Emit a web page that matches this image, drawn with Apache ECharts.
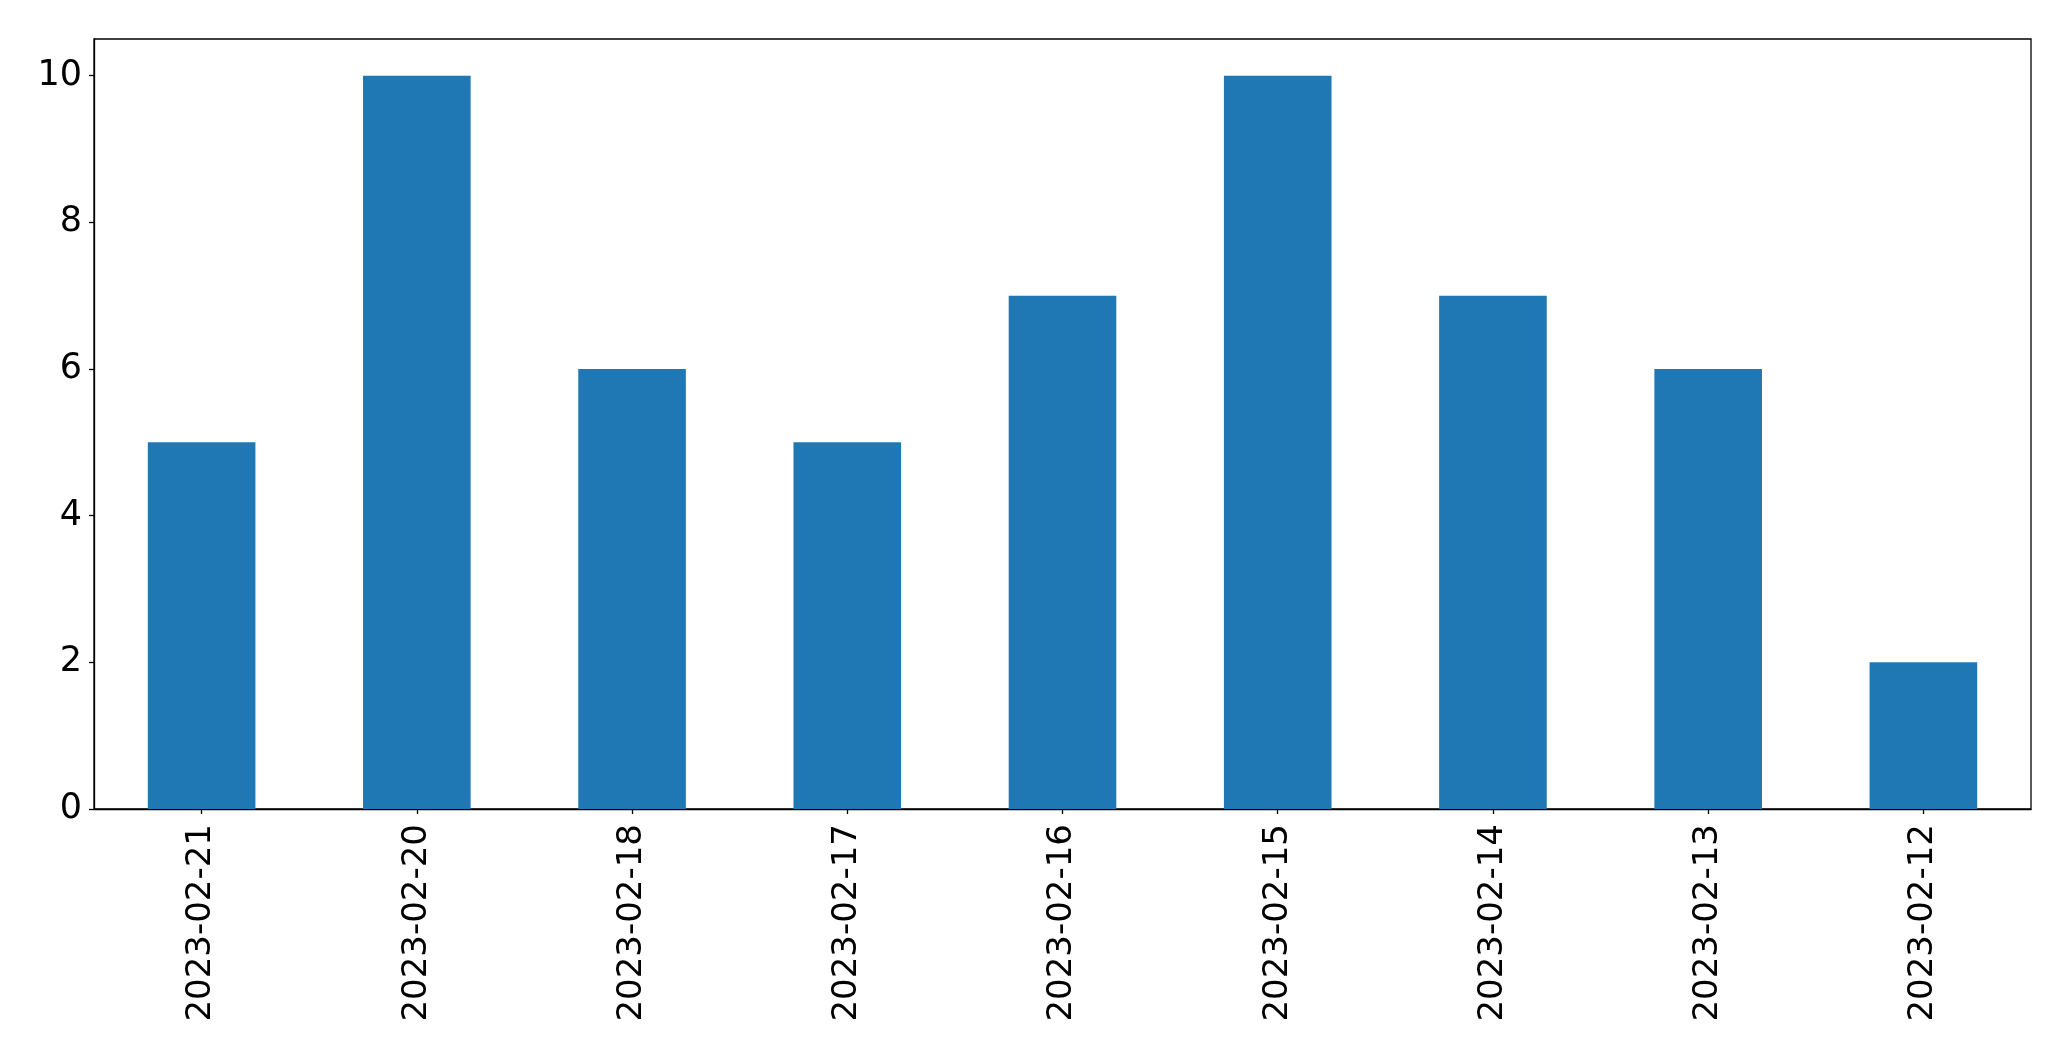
<!DOCTYPE html>
<html><head><meta charset="utf-8">
<script src="https://cdn.jsdelivr.net/npm/echarts@6/dist/echarts.min.js"></script>
<style>html,body{margin:0;padding:0;background:#fff}#c{width:2071px;height:1061px}</style>
</head><body><div id="c"></div>
<script>
const categories = ['2023-02-21','2023-02-20','2023-02-18','2023-02-17','2023-02-16','2023-02-15','2023-02-14','2023-02-13','2023-02-12'];
const values = [5, 10, 6, 5, 7, 10, 7, 6, 2];
const yTicks = [0, 2, 4, 6, 8, 10];

const chart = echarts.init(document.getElementById('c'), null, {renderer: 'canvas'});
const font = 'DejaVu Sans';
chart.setOption({
  animation: false,
  backgroundColor: '#fff',
  grid: {left: 94, top: 39, width: 1937, height: 770, show: true, borderColor: '#000', borderWidth: 1.3, backgroundColor: 'transparent'},
  xAxis: {
    type: 'category', data: categories,
    axisLine: {show: true, lineStyle: {color: '#000', width: 1.3}},
    axisTick: {show: true, alignWithLabel: true, length: 5, lineStyle: {color: '#000', width: 1.3}},
    axisLabel: {rotate: 90, fontSize: 34, fontFamily: font, color: '#000', margin: 15, interval: 0},
    splitLine: {show: false}
  },
  yAxis: {
    type: 'value', min: 0, max: 10.5, interval: 2,
    axisLine: {show: true, lineStyle: {color: '#000', width: 1.3}},
    axisTick: {show: true, length: 5, lineStyle: {color: '#000', width: 1.3}},
    axisLabel: {fontSize: 35, fontFamily: font, color: '#000', margin: 12, showMaxLabel: false,
      formatter: v => yTicks.includes(v) ? String(v) : ''},
    splitLine: {show: false}
  },
  series: [{type: 'bar', data: values, barWidth: '50%', itemStyle: {color: '#1f77b4'}}]
});
</script></body></html>
